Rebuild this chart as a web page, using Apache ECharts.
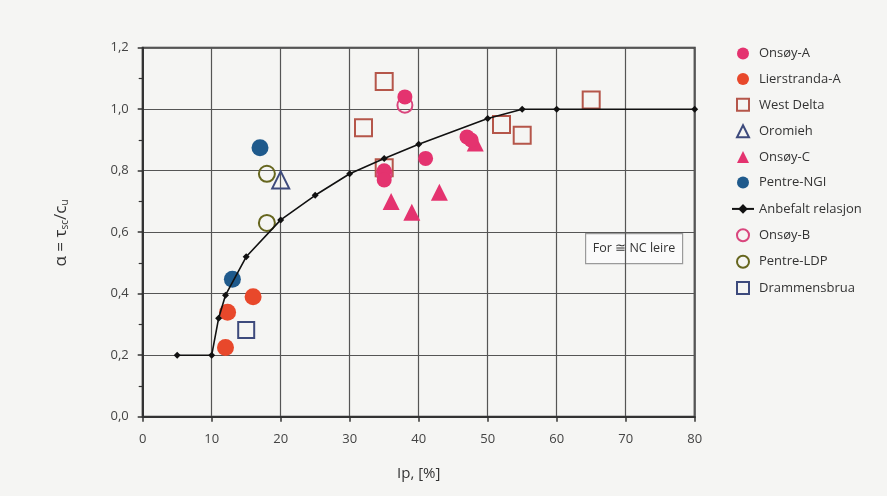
<!DOCTYPE html>
<html>
<head>
<meta charset="utf-8">
<script src="https://cdn.jsdelivr.net/npm/echarts@6/dist/echarts.min.js"></script>
<style>
html,body{margin:0;padding:0;background:#f5f5f3;}
#c{width:887px;height:496px;}
</style>
</head>
<body>
<div id="c"></div>
<script>
// ---- data ----
const xTicks = [0, 10, 20, 30, 40, 50, 60, 70, 80];
const yTicks = [0, 0.2, 0.4, 0.6, 0.8, 1.0, 1.2];
const onsoyA = [[38, 1.04], [35, 0.80], [35, 0.77], [41, 0.84], [47, 0.91], [47.6, 0.90]];
const lierstrandaA = [[12, 0.225], [12.3, 0.34], [16, 0.39]];
const westDelta = [[35, 1.09], [32, 0.94], [35, 0.81], [52, 0.95], [55, 0.915], [65, 1.03]];
const oromieh = [[20, 0.77]];
const onsoyC = [[36, 0.70], [39, 0.665], [43, 0.73], [48.2, 0.89]];
const pentreNGI = [[17, 0.875], [13, 0.447]];
const anbefalt = [[5, 0.2], [10, 0.2], [11, 0.32], [12, 0.395], [15, 0.52], [20, 0.64], [25, 0.72], [30, 0.79], [35, 0.84], [40, 0.886], [50, 0.97], [55, 1.0], [60, 1.0], [80, 1.0]];
const onsoyB = [[38, 1.013], [35, 0.79]];
const pentreLDP = [[18, 0.79], [18, 0.63]];
const drammensbrua = [[15, 0.282]];

const FONT = '"Open Sans", "Noto Sans", sans-serif';
const chart = echarts.init(document.getElementById('c'), null, {renderer: 'canvas'});

function filled(name, data, symbol, color, size, z) {
  return {name, type: 'scatter', data, symbol, symbolSize: size,
    itemStyle: {color, opacity: 1}, z: z || 3};
}
function open(name, data, symbol, color, size, z) {
  return {name, type: 'scatter', data, symbol, symbolSize: size,
    itemStyle: {color: 'rgba(255,255,255,0)', borderColor: color, borderWidth: 2, opacity: 1}, z: z || 3};
}

const STEP = 25.9;
const LTOP = 42;
const legendText = {fontSize: 13, color: '#333', fontFamily: FONT};
function scatterLegend(names, top) {
  return {orient: 'vertical', left: 731, top, itemWidth: 12, itemHeight: 12,
    itemGap: STEP - 13.5, textStyle: Object.assign({padding: [0, 0, 0, 5]}, legendText), data: names};
}

const option = {
  backgroundColor: '#f5f5f3',
  animation: false,
  textStyle: {fontFamily: FONT},
  grid: {left: 142.7, right: 192.3, top: 47.7, bottom: 79.3, show: true,
    borderColor: '#333', borderWidth: 2, backgroundColor: 'rgba(0,0,0,0)'},
  xAxis: {
    type: 'value', min: 0, max: 80, interval: 10,
    name: 'Ip, [%]', nameLocation: 'middle', nameGap: 50,
    nameTextStyle: {fontSize: 15, color: '#333', fontFamily: FONT},
    axisLine: {show: true, lineStyle: {color: '#333', width: 2}},
    axisTick: {show: true, length: 5, lineStyle: {color: '#333', width: 1.5}},
    axisLabel: {fontSize: 13, color: '#444', margin: 16, fontFamily: FONT,
      formatter: v => xTicks.includes(v) ? String(v) : ''},
    splitLine: {show: true, lineStyle: {color: '#555', width: 1.2}}
  },
  yAxis: {
    type: 'value', min: 0, max: 1.2, interval: 0.2,
    axisLine: {show: true, lineStyle: {color: '#333', width: 2}},
    axisTick: {show: true, length: 5, lineStyle: {color: '#333', width: 1.5}},
    minorTick: {show: true, splitNumber: 2, length: 4, lineStyle: {color: '#333', width: 1.2}},
    axisLabel: {fontSize: 13, color: '#444', margin: 14, fontFamily: FONT,
      formatter: v => {
        const t = yTicks.find(k => Math.abs(k - v) < 1e-6);
        return t === undefined ? '' : t.toFixed(1).replace('.', ',');
      }},
    splitLine: {show: true, lineStyle: {color: '#555', width: 1.2}}
  },
  legend: [
    scatterLegend(['Onsøy-A', 'Lierstranda-A', 'West Delta', 'Oromieh', 'Onsøy-C', 'Pentre-NGI'], LTOP),
    {orient: 'vertical', left: 726, top: LTOP + STEP * 6, itemWidth: 22, itemHeight: 12,
      textStyle: legendText, data: ['Anbefalt relasjon']},
    scatterLegend(['Onsøy-B', 'Pentre-LDP', 'Drammensbrua'], LTOP + STEP * 7)
  ],
  graphic: [
    {type: 'text', x: 61, y: 233, rotation: Math.PI / 2, z: 10,
      style: {
        text: '{a|α = τ}{s|sc}{a|/c}{s|u}',
        rich: {
          a: {fontSize: 17, fill: '#333', fontFamily: FONT},
          s: {fontSize: 10, fill: '#333', fontFamily: FONT, padding: [9, 0, 0, 0]}
        },
        align: 'center', verticalAlign: 'middle'
      }},
    {type: 'group', left: 585, top: 233, z: 10, children: [
      {type: 'rect', shape: {x: 0, y: 0, width: 97, height: 30},
        style: {fill: '#fafafa', stroke: '#9a9a9a', lineWidth: 1.2}},
      {type: 'text', x: 48.5, y: 15, style: {text: 'For ≅ NC leire', fontSize: 12.5,
        fill: '#333', fontFamily: FONT, align: 'center', verticalAlign: 'middle'}}
    ]}
  ],
  series: [
    open('West Delta', westDelta, 'rect', '#b5564a', 17, 2),
    filled('Onsøy-A', onsoyA, 'circle', '#e4336f', 15, 4),
    filled('Lierstranda-A', lierstrandaA, 'circle', '#e8482b', 17, 3),
    open('Oromieh', oromieh, 'triangle', '#3d4a7c', 17, 3),
    filled('Onsøy-C', onsoyC, 'triangle', '#e4336f', 17, 3),
    filled('Pentre-NGI', pentreNGI, 'circle', '#1f5a8c', 17, 3),
    {name: 'Anbefalt relasjon', type: 'line', data: anbefalt, symbol: 'diamond', symbolSize: 7,
      showAllSymbol: true,
      lineStyle: {color: '#111', width: 1.6}, itemStyle: {color: '#111'}, z: 5},
    open('Onsøy-B', onsoyB, 'circle', '#d9467d', 15, 3),
    open('Pentre-LDP', pentreLDP, 'circle', '#66661e', 16, 3),
    open('Drammensbrua', drammensbrua, 'rect', '#3d4a7c', 16, 3)
  ]
};
chart.setOption(option);
</script>
</body>
</html>
